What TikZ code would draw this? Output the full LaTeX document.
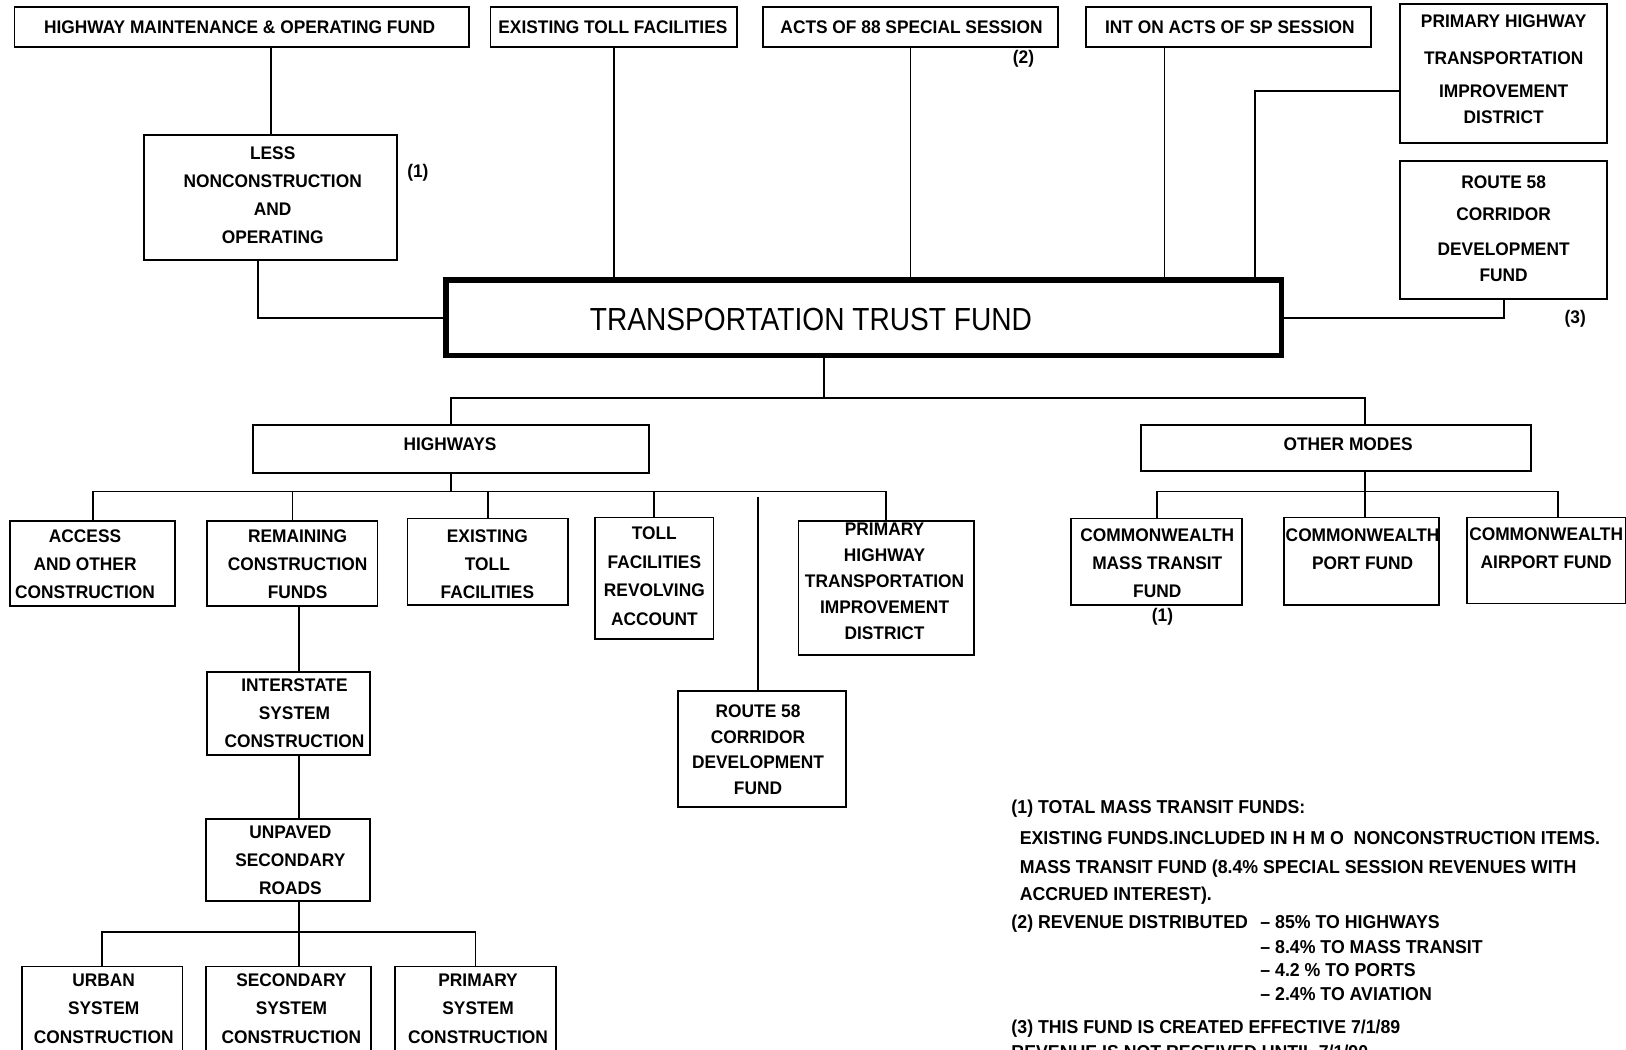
\documentclass[tikz,border=0pt]{standalone}
\usepackage{fontspec}
\setmainfont{Liberation Sans}[FakeStretch=0.95]
\newfontfamily\titlefont{Liberation Sans}[FakeStretch=0.88]
\usetikzlibrary{fit}
\begin{document}
\begin{tikzpicture}[x=0.5pt, y=-0.5pt,
  box/.style={draw, line width=0.9pt, inner sep=0pt},
  txt/.style={inner sep=0pt, align=center, font=\fontsize{8.8}{13.5}\selectfont\bfseries},
  conn/.style={line width=0.9pt},
  tag/.style={inner sep=0pt, font=\fontsize{8.8}{10}\selectfont\bfseries},
  note/.style={anchor=base west, inner sep=0pt, font=\fontsize{9}{10}\selectfont\bfseries}]
\useasboundingbox (0,0) rectangle (1568,1012);
\clip (0,0) rectangle (1568,1012);
\fill[white] (0,0) rectangle (1568,1012);

% top row
\node[box, fit={(14,7) (452,45)}] (hmo) {};
\node[txt] (hmoT) at (231,26) {HIGHWAY MAINTENANCE \& OPERATING FUND};
\node[box, fit={(473,7) (711,45)}] (etf) {};
\node[txt] (etfT) at (591,26) {EXISTING TOLL FACILITIES};
\node[box, fit={(736,7) (1020,45)}] (acts) {};
\node[txt] (actsT) at (879,26) {ACTS OF 88 SPECIAL SESSION};
\node[box, fit={(1047,7) (1322,45)}] (int) {};
\node[txt] (intT) at (1186,26) {INT ON ACTS OF SP SESSION};
\node[box, fit={(1350,4) (1550,138)}] (phT) {};
\node[txt, font=\fontsize{8.8}{12.5}\selectfont\bfseries] (phTT) at (1450,66.5) {PRIMARY HIGHWAY\\[5.5pt]TRANSPORTATION\\[3.5pt]IMPROVEMENT\\DISTRICT};
\node[box, fit={(1350,155) (1550,288)}] (r58T) {};
\node[txt, font=\fontsize{8.8}{12.5}\selectfont\bfseries] (r58TT) at (1450,220.5) {ROUTE 58\\[3pt]CORRIDOR\\[4pt]DEVELOPMENT\\FUND};
\node[box, fit={(139,130) (383,251)}] (less) {};
\node[txt] (lessT) at (263,188.5) {LESS\\NONCONSTRUCTION\\AND\\OPERATING};
\node[draw, line width=2.6pt, inner sep=0pt, fit={(430,270) (1236,343)}] (ttf) {};
\node[inner sep=0pt, font=\titlefont\fontsize{15.4}{18}\selectfont] (ttfT) at (782,308) {TRANSPORTATION TRUST FUND};

\node[tag] (t2) at (987,57) {(2)};
\node[tag] (t1a) at (403,167) {(1)};
\node[tag] (t3) at (1519,307) {(3)};

% top connectors
\draw[conn] (less.north |- hmo.south) -- (less.north);
\draw[conn] ([xshift=-6pt]less.south) |- (ttf.west);
\draw[conn] (etf.south) -- (etf.south |- ttf.north);
\draw[conn] (acts.south) -- (acts.south |- ttf.north);
\coordinate (intx) at ([xshift=-30.75pt]int.south);
\draw[conn] (intx) -- (intx |- ttf.north);
\draw[conn] ([yshift=-8.5pt]phT.west) -| ([xshift=-14pt]ttf.north east);
\draw[conn] (r58T.south) |- (ttf.east);

% second level
\node[box, fit={(244,410) (626,456)}] (hw) {};
\node[txt] (hwT) at (434,428) {HIGHWAYS};
\node[box, fit={(1100,410) (1476,454)}] (om) {};
\node[txt] (omT) at (1300,428) {OTHER MODES};
\coordinate (busA) at (795,384);
\coordinate (omx) at ([xshift=14pt]om.north);
\draw[conn] (busA |- ttf.south) -- (busA);
\draw[conn] (hw.north) -- (hw.north |- busA) -- (omx |- busA) -- (omx);

% highways children
\node[box, fit={(10,502) (169,584)}] (acc) {};
\node[txt] (accT) at (82,544.5) {ACCESS\\AND OTHER\\CONSTRUCTION};
\node[box, fit={(200,502) (364,584)}] (rem) {};
\node[txt] (remT) at (287,544.5) {REMAINING\\CONSTRUCTION\\FUNDS};
\node[box, fit={(393,500) (548,583)}] (ex2) {};
\node[txt] (ex2T) at (470,544) {EXISTING\\TOLL\\FACILITIES};
\node[box, fit={(574,499) (688,616)}] (toll) {};
\node[txt, font=\fontsize{8.8}{13.8}\selectfont\bfseries] (tollT) at (631,555.5) {TOLL\\FACILITIES\\REVOLVING\\ACCOUNT};
\node[box, fit={(770,502) (939,632)}] (ph2) {};
\node[txt, font=\fontsize{8.8}{12.6}\selectfont\bfseries] (ph2T) at (853,560.5) {PRIMARY\\HIGHWAY\\TRANSPORTATION\\IMPROVEMENT\\DISTRICT};
\node[box, fit={(654,666) (816,778)}] (r58b) {};
\node[txt, font=\fontsize{8.8}{12.4}\selectfont\bfseries] (r58bT) at (731,723) {ROUTE 58\\CORRIDOR\\DEVELOPMENT\\FUND};
\coordinate (busH) at (434,474);
\draw[conn] (hw.south) -- (hw.south |- busH);
\draw[conn] (acc.north) -- (acc.north |- busH) -- (ph2.north |- busH) -- (ph2.north);
\foreach \n in {rem, ex2, toll} \draw[conn] (\n.north) -- (\n.north |- busH);
\coordinate (r58top) at (731,479);
\draw[conn] (r58top) -- (r58top |- r58b.north);

% construction chain
\node[box, fit={(200,648) (357,728)}] (inter) {};
\node[txt] (interT) at (284,688) {INTERSTATE\\SYSTEM\\CONSTRUCTION};
\node[box, fit={(199,790) (357,869)}] (unp) {};
\node[txt] (unpT) at (280,830) {UNPAVED\\SECONDARY\\ROADS};
\node[box, fit={(21,932) (176,1040)}] (urb) {};
\node[txt, font=\fontsize{8.8}{13.7}\selectfont\bfseries] (urbT) at (100,972.5) {URBAN\\SYSTEM\\CONSTRUCTION};
\node[box, fit={(199,932) (358,1040)}] (sec) {};
\node[txt, font=\fontsize{8.8}{13.7}\selectfont\bfseries] (secT) at (281,972.5) {SECONDARY\\SYSTEM\\CONSTRUCTION};
\node[box, fit={(381,932) (536,1040)}] (pri) {};
\node[txt, font=\fontsize{8.8}{13.7}\selectfont\bfseries] (priT) at (461,972.5) {PRIMARY\\SYSTEM\\CONSTRUCTION};
\coordinate (col) at (288,600);
\coordinate (busU) at (288,899);
\draw[conn] (col |- rem.south) -- (col |- inter.north);
\draw[conn] (col |- inter.south) -- (col |- unp.north);
\draw[conn] (col |- unp.south) -- (col |- sec.north);
\draw[conn] (urb.north) -- (urb.north |- busU) -- (pri.north |- busU) -- (pri.north);

% other modes children
\node[box, fit={(1033,500) (1198,583)}] (cmt) {};
\node[txt] (cmtT) at (1116,543.5) {COMMONWEALTH\\MASS TRANSIT\\FUND};
\node[box, fit={(1238,499) (1388,583)}] (port) {};
\node[txt] (portT) at (1314,529.5) {COMMONWEALTH\\PORT FUND};
\node[box, fit={(1415,499) (1568,582)}] (air) {};
\node[txt] (airT) at (1491,529) {COMMONWEALTH\\AIRPORT FUND};
\node[tag] (t1b) at (1121,595) {(1)};
\coordinate (busO) at (1316,474);
\coordinate (airx) at (1502,499);
\draw[conn] (omx |- om.south) -- (omx |- port.north);
\draw[conn] (cmt.north) -- (cmt.north |- busO) -- (airx |- busO) -- (airx);

% notes
\node[note] (n1) at (975,784) {(1) TOTAL MASS TRANSIT FUNDS:};
\node[note] (n2) at (983,814) {EXISTING FUNDS.INCLUDED IN H M O\ \ NONCONSTRUCTION ITEMS.};
\node[note] (n3) at (983,842) {MASS TRANSIT FUND (8.4\% SPECIAL SESSION REVENUES WITH};
\node[note] (n4) at (983,868) {ACCRUED INTEREST).};
\node[note] (n5) at (975,895) {(2) REVENUE DISTRIBUTED};
\node[note] (n5b) at (1215,895) {-- 85\% TO HIGHWAYS};
\node[note] (n6) at (1215,919) {-- 8.4\% TO MASS TRANSIT};
\node[note] (n7) at (1215,942) {-- 4.2 \% TO PORTS};
\node[note] (n8) at (1215,965) {-- 2.4\% TO AVIATION};
\node[note] (n9) at (975,997) {(3) THIS FUND IS CREATED EFFECTIVE 7/1/89};
\node[note] (n10) at (975,1021) {REVENUE IS NOT RECEIVED UNTIL 7/1/90};
\end{tikzpicture}
\end{document}
